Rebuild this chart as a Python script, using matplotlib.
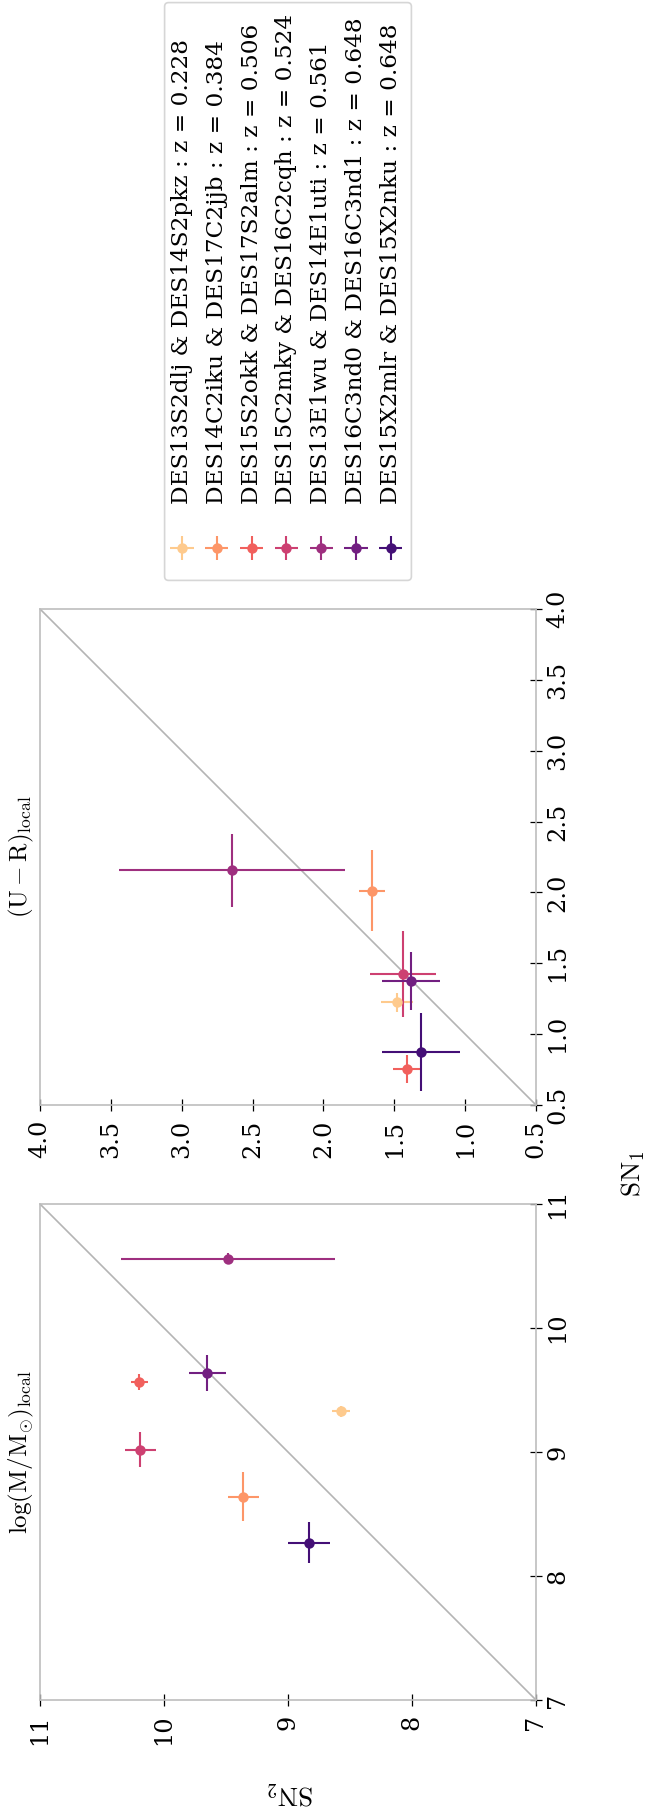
import matplotlib
matplotlib.use("Agg")
import matplotlib.pyplot as plt
import numpy as np
from matplotlib.patches import FancyBboxPatch

plt.rcParams["font.family"] = "DejaVu Serif"
plt.rcParams["mathtext.fontset"] = "cm"

# ---- SN pairs (legend order: low z -> high z) ----
pair_labels = [
    "DES13S2dlj & DES14S2pkz : z = 0.228",
    "DES14C2iku & DES17C2jjb : z = 0.384",
    "DES15S2okk & DES17S2alm : z = 0.506",
    "DES15C2mky & DES16C2cqh : z = 0.524",
    "DES13E1wu & DES14E1uti : z = 0.561",
    "DES16C3nd0 & DES16C3nd1 : z = 0.648",
    "DES15X2mlr & DES15X2nku : z = 0.648",
]

# local stellar mass, log(M/Msun)
mass_sn1 = [9.33, 8.64, 9.565, 9.02, 10.56, 9.64, 8.27]
mass_sn1_err = [0.044, 0.20, 0.067, 0.14, 0.047, 0.145, 0.165]
mass_sn2 = [8.57, 9.36, 10.20, 10.19, 9.48, 9.65, 8.83]
mass_sn2_err = [0.073, 0.124, 0.07, 0.126, 0.863, 0.146, 0.17]

# local U-R colour
col_sn1 = [1.225, 2.012, 0.754, 1.422, 2.156, 1.373, 0.874]
col_sn1_err = [0.066, 0.286, 0.098, 0.304, 0.258, 0.205, 0.273]
col_sn2 = [1.478, 1.657, 1.412, 1.436, 2.647, 1.382, 1.311]
col_sn2_err = [0.113, 0.094, 0.10, 0.232, 0.797, 0.206, 0.276]

mass_ticks = [7, 8, 9, 10, 11]
col_ticks = [0.5, 1.0, 1.5, 2.0, 2.5, 3.0, 3.5, 4.0]

colors = plt.get_cmap("magma")(np.linspace(0, 1, 10)[2:-1])[::-1]

W, H, DPI = 645, 1813, 150
fig = plt.figure(figsize=(W / DPI, H / DPI), dpi=DPI)

FS_TICK = 11.5
FS_LEG = 11.2


def px_rect(x0, y0, x1, y1):
    return [x0 / W, 1 - y1 / H, (x1 - x0) / W, (y1 - y0) / H]


SPINE = "#bdbdbd"
DIAG = "#b4b4b4"


def panel(ax, sn1, sn1e, sn2, sn2e, ticks, fmt, title):
    lo, hi = ticks[0], ticks[-1]
    ax.plot([lo, hi], [lo, hi], color=DIAG, lw=0.8, zorder=0)
    for i in range(len(sn1)):
        ax.errorbar(sn2[i], sn1[i], xerr=sn2e[i], yerr=sn1e[i], fmt="o",
                    color=colors[i], ms=4, elinewidth=1.0, capsize=0)
    ax.set_xlim(hi, lo)
    ax.set_ylim(lo, hi)
    ax.set_xticks(ticks)
    ax.set_yticks(ticks)
    ax.set_xticklabels([fmt.format(t) for t in ticks])
    ax.set_yticklabels([fmt.format(t) for t in ticks])
    ax.yaxis.tick_right()
    ax.tick_params(axis="x", direction="inout", length=5.9, width=0.6,
                   labelrotation=90, pad=4, labelsize=FS_TICK, color="black")
    ax.tick_params(axis="y", direction="inout", length=5.9, width=0.6,
                   labelrotation=90, pad=2, labelsize=FS_TICK, color="black")
    plt.setp(ax.get_yticklabels(), va="center")
    for s in ax.spines.values():
        s.set_color(SPINE)
        s.set_linewidth(0.8)
    ax.text(-4 / 496, 0.5, title, transform=ax.transAxes, rotation=90,
            ha="right", va="center", fontsize=12)


ax_mass = fig.add_axes(px_rect(40, 1204, 536, 1700))
panel(ax_mass, mass_sn1, mass_sn1_err, mass_sn2, mass_sn2_err,
      mass_ticks, "{:d}", r"$\rm log(M/M_{\odot})_{local}$")

ax_col = fig.add_axes(px_rect(40, 609, 536, 1105))
panel(ax_col, col_sn1, col_sn1_err, col_sn2, col_sn2_err,
      col_ticks, "{:.1f}", r"$\rm (U-R)_{local}$")

# axis labels shared by both panels
fig.text(633 / W, 1 - 1174 / H, r"$\rm SN_1$", rotation=90,
         ha="center", va="center", fontsize=13)
fig.text(290 / W, 1 - 1793 / H, r"$\rm SN_2$", rotation=180,
         ha="center", va="center", fontsize=13)

# legend box, laid out in pixel units
lx0, ly0, lx1, ly1 = 164, 2, 412, 581
ax_leg = fig.add_axes(px_rect(lx0, ly0, lx1, ly1))
ax_leg.set_xlim(lx0, lx1)
ax_leg.set_ylim(ly1, ly0)
ax_leg.axis("off")
frame = FancyBboxPatch((lx0 + 0.6, ly0 + 0.6), lx1 - lx0 - 1.2, ly1 - ly0 - 1.2,
                       boxstyle="round,pad=0,rounding_size=4",
                       transform=ax_leg.transData, fc="white", ec="#d6d6d6",
                       lw=0.8, clip_on=False, zorder=0)
ax_leg.add_patch(frame)
for i, lab in enumerate(pair_labels):
    xi = 182 + 34.8 * i
    ax_leg.errorbar(xi, 548, xerr=11.6, yerr=11.6, fmt="o", color=colors[i],
                    ms=4, elinewidth=1.0, capsize=0, clip_on=False)
    ax_leg.text(xi, 504, lab, rotation=90, ha="center", va="bottom",
                fontsize=FS_LEG)

fig.savefig("out.png", dpi=DPI)
